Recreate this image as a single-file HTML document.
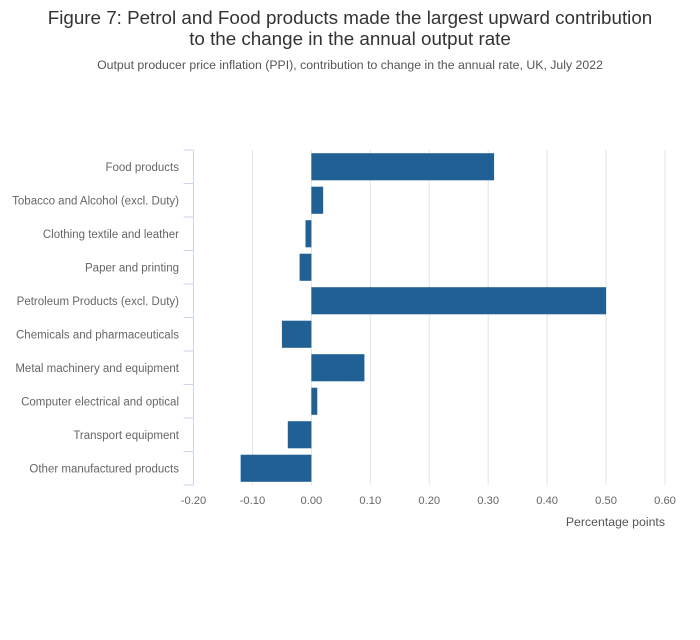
<!DOCTYPE html>
<html><head><meta charset="utf-8"><style>
body{margin:0;background:#fff;font-family:"Liberation Sans",sans-serif;}
</style></head><body>
<svg width="700" height="635" xmlns="http://www.w3.org/2000/svg" font-family="Liberation Sans, sans-serif">
<text x="350" y="24" text-anchor="middle" font-size="18.8" fill="#333">Figure 7: Petrol and Food products made the largest upward contribution</text>
<text x="350" y="45" text-anchor="middle" font-size="18.8" fill="#333">to the change in the annual output rate</text>
<text x="350" y="69" text-anchor="middle" font-size="12.3" fill="#555">Output producer price inflation (PPI), contribution to change in the annual rate, UK, July 2022</text>
<g id="plot"></g>
<text x="665" y="526" text-anchor="end" font-size="12.3" fill="#555">Percentage points</text>
</svg>
<script>
const categories=["Food products","Tobacco and Alcohol (excl. Duty)","Clothing textile and leather","Paper and printing","Petroleum Products (excl. Duty)","Chemicals and pharmaceuticals","Metal machinery and equipment","Computer electrical and optical","Transport equipment","Other manufactured products"];
const values=[0.31,0.02,-0.01,-0.02,0.50,-0.05,0.09,0.01,-0.04,-0.12];
const xTicks=[-0.2,-0.1,0,0.1,0.2,0.3,0.4,0.5,0.6];
const xTickLabels=["-0.20","-0.10","0.00","0.10","0.20","0.30","0.40","0.50","0.60"];
const NS="http://www.w3.org/2000/svg";
const plotG=document.getElementById('plot');
const plotTop=150,plotBottom=485,x0=193.5,x1=665,xmin=-0.2,xmax=0.6;
const xs=v=>x0+(v-xmin)/(xmax-xmin)*(x1-x0);
const band=(plotBottom-plotTop)/categories.length;
const yb=i=>plotTop+i*band;
function mk(t,a){const e=document.createElementNS(NS,t);for(const k in a)e.setAttribute(k,a[k]);plotG.appendChild(e);return e;}
xTicks.forEach((v,i)=>{
  if(i>0){const l=mk('line',{x1:xs(v),x2:xs(v),y1:plotTop,y2:plotBottom,stroke:'#e3e3e3','stroke-width':1});
  
  }
  const t=mk('text',{x:xs(v),y:504,'text-anchor':'middle','font-size':11.2,fill:'#666'});
  t.textContent=xTickLabels[i];
  
  
});
const ax=mk('line',{x1:x0,x2:x0,y1:plotTop,y2:plotBottom,stroke:'#ccd6eb','stroke-width':1});


for(let i=0;i<=categories.length;i++){
  const tk=mk('line',{x1:x0-10,x2:x0,y1:yb(i),y2:yb(i),stroke:'#ccd6eb','stroke-width':1});
  
  
}
categories.forEach((c,i)=>{
  const t=mk('text',{x:179,y:yb(i)+band/2+4,'text-anchor':'end','font-size':11.5,fill:'#666'});
  t.textContent=c;
  
  
  const v=values[i];
  const a=xs(Math.min(0,v)),b=xs(Math.max(0,v));
  const r=mk('rect',{x:a,y:yb(i)+3.2,width:b-a,height:band-6.4,fill:'#206095'});
  
  
});
</script>
</body></html>
